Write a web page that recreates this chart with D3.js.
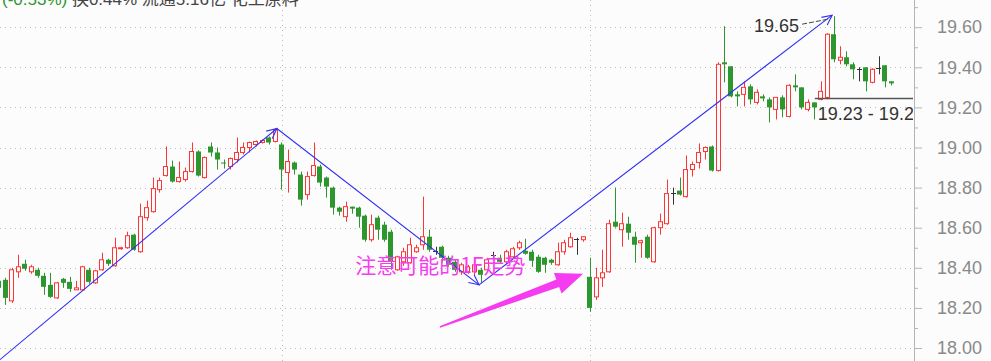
<!DOCTYPE html>
<html>
<head>
<meta charset="utf-8">
<script src="https://cdn.jsdelivr.net/npm/d3@7"></script>
<style>
  html, body { margin: 0; padding: 0; background: #fcfcfc; }
  svg { display: block; }
</style>
</head>
<body>
<svg id="chart" width="991" height="361"></svg>
<script>
// ---- data ----
const opens = [
  18.335,18.34,18.235,18.38,18.42,18.38,18.39,18.36,18.315,18.25,
  18.345,18.33,18.29,18.29,18.39,18.325,18.39,18.44,18.41,18.495,
  18.50,18.565,18.48,18.65,18.68,18.79,18.86,18.905,18.83,18.84,
  18.88,18.98,18.85,19.005,18.975,18.925,18.905,18.94,18.975,19.00,
  19.015,19.025,19.05,19.03,19.015,18.875,18.925,18.865,18.765,18.86,
  18.905,18.85,18.80,18.70,18.655,18.705,18.70,18.66,18.54,18.65,
  18.615,18.58,18.39,18.43,18.425,18.48,18.515,18.555,18.485,18.505,
  18.45,18.43,18.38,18.38,18.38,18.39,18.39,18.465,18.45,18.43,
  18.455,18.50,18.485,18.48,18.455,18.45,18.44,18.415,18.48,18.505,
  18.545,18.54,18.355,18.255,18.35,18.38,18.63,18.59,18.62,18.555,
  18.525,18.555,18.43,18.60,18.62,18.775,18.785,18.755,18.89,18.925,
  18.98,19.005,18.885,19.425,19.405,19.265,19.265,19.305,19.225,19.255,
  19.24,19.19,19.25,19.155,19.31,19.30,19.19,19.225,19.24,19.25,
  19.565,19.435,19.45,19.415,19.39,19.40,19.325,19.395,19.41,19.33
];
const closes = [
  18.30,18.25,18.39,18.405,18.395,18.405,18.36,18.305,18.255,18.325,
  18.325,18.295,18.30,18.405,18.33,18.385,18.44,18.42,18.50,18.50,
  18.56,18.49,18.655,18.70,18.795,18.835,18.905,18.83,18.85,18.88,
  18.98,18.86,18.95,18.975,18.94,18.92,18.945,18.975,19.00,19.025,
  19.03,19.035,19.025,19.09,18.89,18.93,18.89,18.74,18.855,18.91,
  18.825,18.805,18.70,18.68,18.705,18.695,18.655,18.54,18.615,18.59,
  18.54,18.43,18.455,18.48,18.515,18.50,18.555,18.49,18.485,18.45,
  18.415,18.39,18.415,18.405,18.415,18.365,18.44,18.465,18.43,18.48,
  18.495,18.525,18.47,18.435,18.38,18.415,18.425,18.48,18.525,18.55,
  18.545,18.555,18.20,18.35,18.375,18.62,18.605,18.62,18.575,18.515,
  18.535,18.45,18.60,18.63,18.77,18.775,18.765,18.89,18.915,18.975,
  19.00,18.885,19.415,19.415,19.255,19.255,19.30,19.24,19.275,19.245,
  19.20,19.25,19.19,19.31,19.30,19.20,19.225,19.20,19.28,19.565,
  19.44,19.45,19.415,19.39,19.39,19.33,19.39,19.395,19.33,19.32
];
const highs = [
  18.35,18.35,18.40,18.465,18.44,18.415,18.40,18.375,18.375,18.33,
  18.35,18.355,18.335,18.41,18.40,18.39,18.475,18.445,18.55,18.505,
  18.58,18.57,18.72,18.735,18.85,18.85,19.005,18.935,18.93,18.90,
  19.025,18.985,18.955,19.025,19.00,18.94,18.95,19.05,19.025,19.03,
  19.035,19.04,19.055,19.095,19.025,18.99,18.93,18.88,18.88,19.025,
  18.915,18.855,18.805,18.705,18.73,18.705,18.705,18.665,18.665,18.66,
  18.63,18.59,18.46,18.50,18.55,18.515,18.755,18.59,18.505,18.51,
  18.46,18.44,18.425,18.415,18.425,18.40,18.45,18.48,18.465,18.49,
  18.505,18.535,18.545,18.49,18.465,18.455,18.445,18.525,18.54,18.575,
  18.55,18.555,18.45,18.40,18.49,18.64,18.80,18.675,18.655,18.58,
  18.54,18.565,18.605,18.67,18.84,18.80,18.85,18.96,18.93,19.02,
  19.005,19.01,19.425,19.605,19.405,19.28,19.33,19.315,19.29,19.265,
  19.25,19.25,19.26,19.315,19.365,19.30,19.24,19.225,19.33,19.57,
  19.655,19.505,19.48,19.425,19.40,19.40,19.395,19.455,19.41,19.33
];
const lows = [
  18.28,18.215,18.225,18.35,18.385,18.37,18.35,18.265,18.25,18.245,
  18.30,18.28,18.29,18.285,18.32,18.32,18.385,18.41,18.405,18.49,
  18.495,18.485,18.475,18.635,18.675,18.775,18.855,18.825,18.825,18.83,
  18.875,18.855,18.845,18.955,18.89,18.895,18.89,18.925,18.965,18.975,
  19.005,19.02,19.015,19.025,18.79,18.775,18.865,18.71,18.74,18.855,
  18.805,18.75,18.665,18.66,18.63,18.67,18.60,18.53,18.53,18.54,
  18.53,18.39,18.385,18.41,18.42,18.475,18.49,18.48,18.465,18.425,
  18.405,18.38,18.365,18.37,18.36,18.325,18.38,18.45,18.42,18.42,
  18.445,18.49,18.465,18.405,18.375,18.375,18.415,18.41,18.465,18.50,
  18.465,18.53,18.18,18.24,18.305,18.375,18.60,18.505,18.54,18.425,
  18.45,18.445,18.425,18.565,18.615,18.715,18.76,18.75,18.855,18.895,
  18.94,18.88,18.88,19.325,19.25,19.205,19.205,19.215,19.215,19.23,
  19.125,19.14,19.15,19.15,19.28,19.19,19.18,19.14,19.235,19.24,
  19.425,19.415,19.405,19.34,19.33,19.28,19.32,19.365,19.30,19.31
];

const yMajor = [18.0, 18.2, 18.4, 18.6, 18.8, 19.0, 19.2, 19.4, 19.6];
const yMinor = [18.1, 18.3, 18.5, 18.7, 18.9, 19.1, 19.3, 19.5, 19.7];
const monthStarts = [44, 92];

// hand-drawn annotations, in (candle index, price)
const trendIdx = [0, 43.2, 74.7, 129.7];
const trendVal = [17.94, 19.095, 18.315, 19.66];
const markIdx = [68.6, 90.9];
const markVal = [18.105, 18.37];
const noteText = '注意可能的1F走势';
const highLabel = '19.65';
const rangeLabel = '19.23 - 19.2';
const rangeLevel = 19.245;
const headerChange = '(-0.53%)';
const headerInfo = ' 换0.44% 流通5.16亿 化工原料';

// ---- chart ----
const RED = '#ff3434', GREEN = '#2e962e', DOJI = '#333', BG = '#fcfcfc';
const svg = d3.select('#chart');
const W = +svg.attr('width'), H = +svg.attr('height');
const plotRight = 913;
const n = opens.length;
const step = 6.42;

const x = d3.scaleBand()
  .domain(d3.range(n))
  .range([-3.71, -3.71 + n * step])
  .paddingInner(0.22)
  .paddingOuter(0.11);
const bw = x.bandwidth();
const xAt = t => x(0) + bw / 2 + t * x.step();

const y = d3.scaleLinear().domain([18, 19.6]).range([348, 27.2]);

svg.append('rect').attr('width', W).attr('height', H).attr('fill', BG);

svg.append('defs').append('clipPath').attr('id', 'plot')
  .append('rect').attr('x', 0).attr('y', 0).attr('width', plotRight).attr('height', H);

// grid
const grid = svg.append('g').attr('stroke', '#bdbdbd').attr('stroke-dasharray', '1,4');
grid.selectAll('line.h')
  .data(yMajor)
  .join('line')
    .attr('class', 'h')
    .attr('x1', 0).attr('x2', plotRight)
    .attr('y1', d => Math.round(y(d)) + 0.5)
    .attr('y2', d => Math.round(y(d)) + 0.5);
grid.selectAll('line.v')
  .data(monthStarts)
  .join('line')
    .attr('class', 'v')
    .attr('x1', d => Math.round(xAt(d)) + 0.5)
    .attr('x2', d => Math.round(xAt(d)) + 0.5)
    .attr('y1', 0).attr('y2', H);

// header line (cut off at top, as in the screenshot)
const header = svg.append('text')
  .attr('x', 2).attr('y', 5)
  .style('font-family', '"Liberation Sans", "Noto Sans CJK SC", sans-serif')
  .style('font-size', '17px');
header.append('tspan').attr('fill', GREEN).text(headerChange);
header.append('tspan').attr('fill', '#444').text(headerInfo);

// axis
svg.append('line')
  .attr('x1', plotRight + 1.5).attr('x2', plotRight + 1.5)
  .attr('y1', 0).attr('y2', H)
  .attr('stroke', '#b4b4b4');

const axisG = svg.append('g').attr('transform', `translate(${plotRight + 1},0)`)
  .call(d3.axisRight(y).tickValues(yMajor).tickSize(8).tickPadding(15)
    .tickFormat(d3.format('.2f')));
axisG.select('.domain').remove();
axisG.selectAll('line').attr('stroke', '#b4b4b4');
axisG.selectAll('text')
  .attr('fill', '#8a8a8a')
  .style('font-family', '"Liberation Sans", Arial, sans-serif')
  .style('font-size', '18px');

const minorG = svg.append('g').attr('transform', `translate(${plotRight + 1},0)`)
  .call(d3.axisRight(y).tickValues(yMinor).tickSize(4).tickFormat(''));
minorG.select('.domain').remove();
minorG.selectAll('line').attr('stroke', '#b4b4b4');

// candles
const plot = svg.append('g').attr('clip-path', 'url(#plot)');
const candles = d3.range(n).map(i => ({
  i, o: opens[i], h: highs[i], l: lows[i], c: closes[i]
}));
const colorOf = d => d.c > d.o ? RED : (d.c < d.o ? GREEN : DOJI);

const cg = plot.selectAll('g.candle')
  .data(candles)
  .join('g')
    .attr('class', 'candle');

cg.append('line')
  .attr('x1', d => Math.floor(x(d.i) + bw / 2) + 0.5)
  .attr('x2', d => Math.floor(x(d.i) + bw / 2) + 0.5)
  .attr('y1', d => y(d.h))
  .attr('y2', d => y(d.l))
  .attr('stroke', colorOf);

// up: hollow red
cg.filter(d => d.c > d.o).append('rect')
  .attr('x', d => Math.floor(x(d.i)) + 0.5)
  .attr('y', d => y(d.c))
  .attr('width', 4)
  .attr('height', d => Math.max(1, y(d.o) - y(d.c)))
  .attr('fill', BG)
  .attr('stroke', RED);

// down: filled green
cg.filter(d => d.c < d.o).append('rect')
  .attr('x', d => Math.floor(x(d.i)))
  .attr('y', d => y(d.o))
  .attr('width', 5)
  .attr('height', d => Math.max(1, y(d.c) - y(d.o)))
  .attr('fill', GREEN);

// doji: flat tick
cg.filter(d => d.c === d.o).append('line')
  .attr('x1', d => Math.floor(x(d.i)))
  .attr('x2', d => Math.floor(x(d.i)) + 5)
  .attr('y1', d => Math.round(y(d.o)) + 0.5)
  .attr('y2', d => Math.round(y(d.o)) + 0.5)
  .attr('stroke', DOJI);

// blue trend lines with open arrow heads
const trendPts = trendIdx.map((t, k) => [xAt(t), y(trendVal[k])]);
const blue = svg.append('g').attr('stroke', '#3030f5').attr('fill', 'none').attr('stroke-width', 1.1);
blue.append('path').attr('d', d3.line()(trendPts));
function headPath(p0, p1, len, ang) {
  const a = Math.atan2(p1[1] - p0[1], p1[0] - p0[0]);
  const b1 = [p1[0] - len * Math.cos(a - ang), p1[1] - len * Math.sin(a - ang)];
  const b2 = [p1[0] - len * Math.cos(a + ang), p1[1] - len * Math.sin(a + ang)];
  return d3.line()([b1, p1, b2]);
}
for (let k = 1; k < trendPts.length; k++) {
  blue.append('path').attr('d', headPath(trendPts[k - 1], trendPts[k], 11, 0.45));
}

// high label
const hx = xAt(130), hy = y(19.65);
svg.append('text')
  .attr('x', hx - 35).attr('y', hy + 15)
  .attr('text-anchor', 'end')
  .attr('fill', '#333')
  .style('font-family', '"Liberation Sans", Arial, sans-serif')
  .style('font-size', '18px')
  .text(highLabel);
svg.append('line')
  .attr('x1', hx - 32).attr('y1', hy + 7)
  .attr('x2', hx - 6).attr('y2', hy + 2)
  .attr('stroke', '#444').attr('stroke-dasharray', '5,2');

// range line + label
const ry = Math.round(y(rangeLevel)) + 0.5;
plot.append('line')
  .attr('x1', xAt(127)).attr('x2', plotRight)
  .attr('y1', ry).attr('y2', ry)
  .attr('stroke', '#555').attr('stroke-width', 1.5);
plot.append('text')
  .attr('x', xAt(127) + 3).attr('y', ry + 21)
  .attr('fill', '#333')
  .style('font-family', '"Liberation Sans", Arial, sans-serif')
  .style('font-size', '18px')
  .text(rangeLabel);

// magenta note + arrow
const MAG = '#f53cf0';
svg.append('text')
  .attr('x', xAt(55.4)).attr('y', y(18.375))
  .attr('fill', MAG)
  .style('font-family', '"Noto Sans CJK SC", sans-serif')
  .style('font-size', '21px')
  .text(noteText);

const tail = [xAt(markIdx[0]), y(markVal[0])];
const tip = [xAt(markIdx[1]), y(markVal[1])];
const dx = tip[0] - tail[0], dy = tip[1] - tail[1];
const L = Math.hypot(dx, dy);
const ux = dx / L, uy = dy / L, px = -uy, py = ux;
const base = [tip[0] - 27 * ux, tip[1] - 27 * uy];
const off = (p, s) => [p[0] + px * s, p[1] + py * s];
svg.append('path')
  .attr('d', d3.line()([
    off(tail, 0.8), off(base, 4), off(base, 11), tip,
    off(base, -11), off(base, -4), off(tail, -0.8)
  ]) + 'Z')
  .attr('fill', MAG);
</script>
</body>
</html>
